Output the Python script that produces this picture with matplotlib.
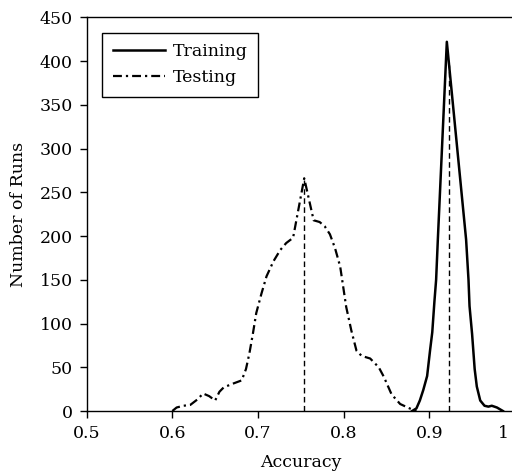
import matplotlib
matplotlib.use("Agg")
import matplotlib.pyplot as plt
from matplotlib.transforms import ScaledTranslation

# Testing accuracy distribution (dash-dot curve)
test_acc = [0.600, 0.605, 0.613, 0.621, 0.629, 0.636, 0.643, 0.650, 0.655, 0.660,
            0.670, 0.681, 0.686, 0.690, 0.694, 0.698, 0.704, 0.710, 0.718, 0.726,
            0.733, 0.741, 0.754, 0.765, 0.772, 0.778, 0.784, 0.790, 0.796, 0.803,
            0.809, 0.815, 0.821, 0.831, 0.841, 0.847, 0.856, 0.866, 0.877, 0.885]
test_runs = [0, 4, 6, 7, 13, 20, 17, 12, 22, 27,
             31, 35, 48, 66, 88, 112, 134, 154, 171, 184,
             192, 198, 266, 218, 216, 211, 202, 186, 165, 119,
             92, 69, 63, 60, 50, 39, 19, 8, 3, 0]

# Training accuracy distribution (solid curve)
train_acc = [0.880, 0.885, 0.889, 0.893, 0.8975, 0.901, 0.9035, 0.906, 0.908, 0.910,
             0.9205, 0.943, 0.9458, 0.947, 0.950, 0.953, 0.9555, 0.9595, 0.9645,
             0.969, 0.973, 0.979, 0.986]
train_runs = [0, 3, 12, 24, 40, 70, 90, 125, 150, 196,
              422, 196, 150, 120, 88, 48, 28, 12, 6,
              5, 6, 4, 0]

# mean markers (dashed verticals)
mean_acc = [0.754, 0.9236]
mean_top = [264, 395]

x_ticks = [0.5, 0.6, 0.7, 0.8, 0.9, 1.0]
x_labels = ["0.5", "0.6", "0.7", "0.8", "0.9", "1"]
y_ticks = list(range(0, 451, 50))

plt.rcParams['font.family'] = ['DejaVu Serif']
plt.rcParams['font.size'] = 12.5

fig = plt.figure(figsize=(5.12, 4.74), dpi=100)
ax = fig.add_axes([0.1693, 0.1329, 0.8364, 0.8306])

ax.plot(train_acc, train_runs, color="black", lw=1.8, label="Training")
ax.plot(test_acc, test_runs, color="black", lw=1.6,
        linestyle=(0, (4, 1.8, 1, 1.8)), label="Testing")
ax.vlines(mean_acc, 0, mean_top, colors="black", lw=1.0, linestyles=(0, (4, 2.5)))

ax.set_xlim(0.5, 1.0)
ax.set_ylim(0, 450)
ax.set_xticks(x_ticks)
ax.set_xticklabels(x_labels)
ax.set_yticks(y_ticks)
ax.tick_params(direction="out", length=5, width=1, pad=5)
for s in ax.spines.values():
    s.set_linewidth(1.0)

# the "1" sits a little left of its tick so it stays inside the picture
last = ax.get_xticklabels()[-1]
last.set_transform(last.get_transform() + ScaledTranslation(-0.11, 0, fig.dpi_scale_trans))

ax.set_xlabel("Accuracy", labelpad=9)
ax.set_ylabel("Number of Runs")
ax.yaxis.set_label_coords(-0.140, 0.5)

leg = ax.legend(loc="upper left", bbox_to_anchor=(0.036, 0.960), borderaxespad=0,
                fancybox=False, edgecolor="black", framealpha=1, borderpad=0.6,
                handlelength=3.0, handletextpad=0.45, labelspacing=0.5)
leg.get_frame().set_linewidth(1.0)

fig.savefig("out.png", dpi=100)
